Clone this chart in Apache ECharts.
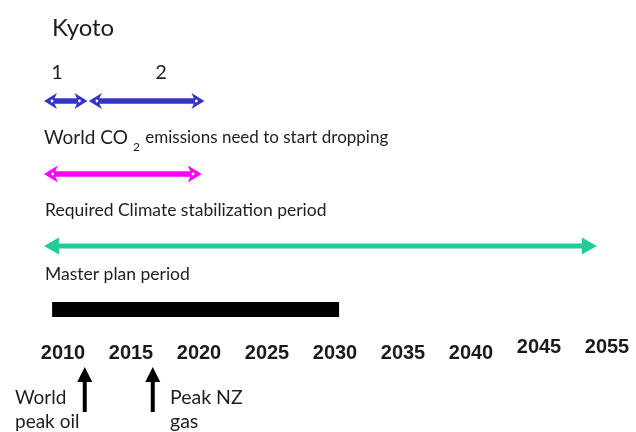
<!DOCTYPE html>
<html>
<head>
<meta charset="utf-8">
<script src="https://cdn.jsdelivr.net/npm/echarts@6/dist/echarts.min.js"></script>
<style>
  html, body { margin: 0; padding: 0; background: #ffffff; }
  #chart { width: 636px; height: 432px; }
</style>
</head>
<body>
<div id="chart"></div>
<script>
// ---- data ----
const tickYears = [2010, 2015, 2020, 2025, 2030, 2035, 2040, 2045, 2055];
const tickLabels = ['2010', '2015', '2020', '2025', '2030', '2035', '2040', '2045', '2055'];
const raisedLabels = ['2045', '2055'];

const periodNames = ['Kyoto 1', 'Kyoto 2', 'Required Climate stabilization period', 'Master plan period', 'Plan bar'];
const periodStart = [2008.6, 2011.9, 2008.6, 2008.6, 2009.2];
const periodEnd   = [2011.8, 2020.4, 2020.2, 2053.5, 2030.3];

const eventNames = ['World\npeak oil', 'Peak NZ\ngas'];
const eventYears = [2011.6, 2016.6];

// ---- layout / style ----
const periodRow = [101, 101, 174, 246, 309.5];
const periodStyle = [
  { color: '#3434c8', width: 5.5, head: 'notched', len: 13, half: 8 },
  { color: '#3434c8', width: 5.5, head: 'notched', len: 13, half: 8 },
  { color: '#ff00ff', width: 5.5, head: 'notched', len: 14, half: 8.5 },
  { color: '#20cc98', width: 5, head: 'solid', len: 15, half: 8.5 },
  { color: '#000000', width: 15, head: 'bar' }
];
const eventTipRow = 367;
const eventBaseRow = 412;
const textColor = '#1e1e1e';
const textFont = 'Lato, "Open Sans", sans-serif';
const axisFont = '"Liberation Sans", Arial, sans-serif';

// year -> position on the (piecewise evenly spaced) label axis
function slotOf(year) {
  const n = tickYears.length;
  let i = 0;
  if (year <= tickYears[0]) i = 0;
  else if (year >= tickYears[n - 1]) i = n - 2;
  else { while (!(year >= tickYears[i] && year <= tickYears[i + 1])) i++; }
  return i + (year - tickYears[i]) / (tickYears[i + 1] - tickYears[i]);
}

const periodData = periodNames.map((name, i) => ({
  name: name,
  value: [slotOf(periodStart[i]), slotOf(periodEnd[i]), periodRow[i]]
}));
const eventData = eventNames.map((name, i) => ({
  name: name,
  value: [slotOf(eventYears[i]), eventTipRow, eventBaseRow]
}));

function headPoints(tipX, y, dir, st) {
  const b = tipX - dir * st.len;
  if (st.head === 'solid') {
    return [[tipX, y], [b, y - st.half], [b, y + st.half]];
  }
  const notch = tipX - dir * st.len * 0.72;
  return [[tipX, y], [b, y - st.half], [notch, y], [b, y + st.half]];
}

function renderPeriod(params, api) {
  const i = params.dataIndex;
  const st = periodStyle[i];
  const s = api.coord([api.value(0), api.value(2)]);
  const e = api.coord([api.value(1), api.value(2)]);
  const y = s[1];
  if (st.head === 'bar') {
    return {
      type: 'rect',
      shape: { x: s[0], y: y - st.width / 2, width: e[0] - s[0], height: st.width },
      style: { fill: st.color }
    };
  }
  const children = [
    { type: 'line', shape: { x1: s[0] + st.len * 0.6, y1: y, x2: e[0] - st.len * 0.6, y2: y },
      style: { stroke: st.color, lineWidth: st.width } },
    { type: 'polygon', shape: { points: headPoints(s[0], y, -1, st) }, style: { fill: st.color } },
    { type: 'polygon', shape: { points: headPoints(e[0], y, 1, st) }, style: { fill: st.color } }
  ];
  if (st.head === 'notched') {
    children.push({ type: 'circle', shape: { cx: s[0] + st.len * 0.62, cy: y, r: 1.4 }, style: { fill: '#ffffff' } });
    children.push({ type: 'circle', shape: { cx: e[0] - st.len * 0.62, cy: y, r: 1.4 }, style: { fill: '#ffffff' } });
  }
  return { type: 'group', children: children };
}

function renderEvent(params, api) {
  const tip = api.coord([api.value(0), api.value(1)]);
  const base = api.coord([api.value(0), api.value(2)]);
  const x = tip[0];
  const len = 15, half = 7.5;
  return {
    type: 'group',
    children: [
      { type: 'line', shape: { x1: x, y1: tip[1] + len - 1, x2: x, y2: base[1] },
        style: { stroke: '#000000', lineWidth: 4 } },
      { type: 'polygon', shape: { points: [[x, tip[1]], [x - half, tip[1] + len], [x + half, tip[1] + len]] },
        style: { fill: '#000000' } }
    ]
  };
}

const chart = echarts.init(document.getElementById('chart'), null, { renderer: 'canvas' });
chart.setOption({
  animation: false,
  backgroundColor: '#ffffff',
  grid: { left: 63, right: 29, top: 0, height: 330 },
  xAxis: {
    type: 'value',
    min: 0,
    max: tickLabels.length - 1,
    interval: 1,
    axisLine: { show: false },
    axisTick: { show: false },
    splitLine: { show: false },
    axisLabel: {
      margin: 7,
      showMinLabel: true,
      showMaxLabel: true,
      formatter: function (v) {
        const lab = tickLabels[Math.round(v)];
        if (lab === undefined) return '';
        return raisedLabels.indexOf(lab) >= 0 ? '{hi|' + lab + '}' : '{lo|' + lab + '}';
      },
      rich: {
        lo: { fontFamily: axisFont, fontWeight: 'bold', fontSize: 20, color: '#1a1a1a', padding: [6, 0, 0, 0] },
        hi: { fontFamily: axisFont, fontWeight: 'bold', fontSize: 20, color: '#1a1a1a', padding: [0, 0, 6, 0] }
      }
    }
  },
  yAxis: {
    type: 'value', inverse: true, min: 0, max: 330, show: false
  },
  graphic: [
    { type: 'text', x: 52, y: 28, style: { text: 'Kyoto', font: '24px ' + textFont, fill: textColor, verticalAlign: 'middle' } },
    { type: 'text', x: 57, y: 73, style: { text: '1', font: '20px ' + textFont, fill: textColor, align: 'center', verticalAlign: 'middle' } },
    { type: 'text', x: 161, y: 73, style: { text: '2', font: '20px ' + textFont, fill: textColor, align: 'center', verticalAlign: 'middle' } },
    { type: 'text', x: 44, y: 128, style: {
        text: '{a|World CO}{s|2}{b| emissions need to start dropping}',
        fill: textColor, verticalAlign: 'top',
        rich: {
          a: { fontFamily: textFont, fontSize: 19, lineHeight: 21, verticalAlign: 'top', fill: textColor },
          s: { fontFamily: textFont, fontSize: 12, lineHeight: 13, verticalAlign: 'top', padding: [13, 1, 0, 5], fill: textColor },
          b: { fontFamily: textFont, fontSize: 17, lineHeight: 21, verticalAlign: 'top', padding: [1, 0, 0, 0], fill: textColor }
        }
      } },
    { type: 'text', x: 45, y: 210, style: { text: 'Required Climate stabilization period', font: '17.5px ' + textFont, fill: textColor, verticalAlign: 'middle' } },
    { type: 'text', x: 45, y: 274, style: { text: 'Master plan period', font: '17.5px ' + textFont, fill: textColor, verticalAlign: 'middle' } },
    { type: 'text', x: 15, y: 386, style: { text: 'World\npeak oil', font: '19px ' + textFont, lineHeight: 24, fill: textColor, verticalAlign: 'top' } },
    { type: 'text', x: 170, y: 386, style: { text: 'Peak NZ\ngas', font: '19.5px ' + textFont, lineHeight: 24, fill: textColor, verticalAlign: 'top' } }
  ],
  series: [
    { type: 'custom', name: 'Periods', renderItem: renderPeriod, data: periodData, clip: false, silent: true },
    { type: 'custom', name: 'Events', renderItem: renderEvent, data: eventData, clip: false, silent: true }
  ]
});
</script>
</body>
</html>
